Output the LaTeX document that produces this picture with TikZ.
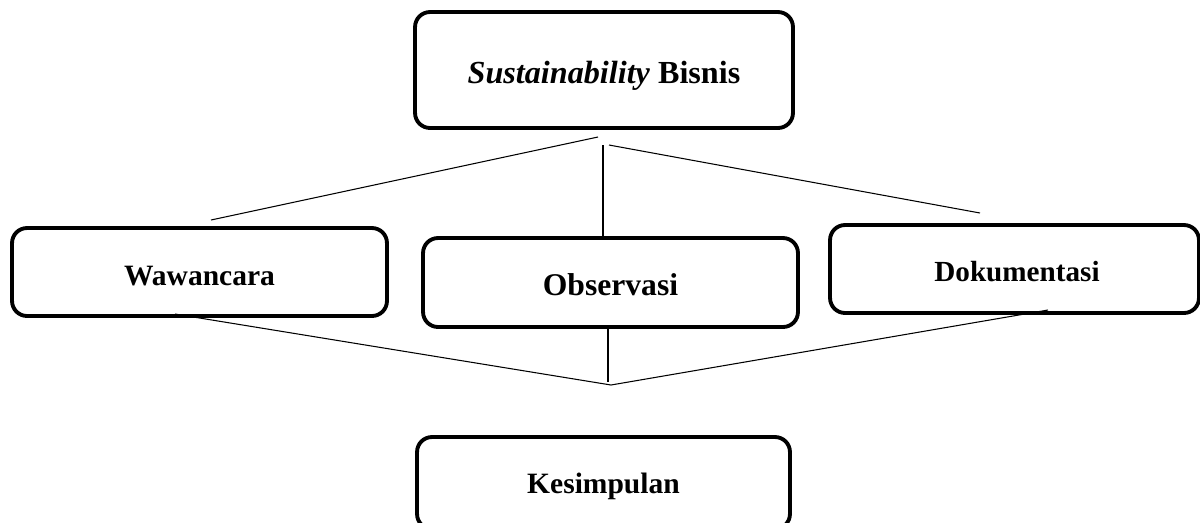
\documentclass[tikz,border=0pt]{standalone}
\usepackage{fontspec}
\setmainfont{Liberation Serif}
\newcommand{\lowr}[2]{\raisebox{-#1}[\height][\depth]{#2}}
\begin{document}
\begin{tikzpicture}[x=0.02cm,y=-0.02cm,
  box/.style={draw=black, line width=2.2pt, rounded corners=0.3cm, fill=none, inner sep=0pt, font=\bfseries},
  conn/.style={draw=black, line width=0.6pt}]
\useasboundingbox (0,0) rectangle (1200,522);
\node[box, minimum width=7.56cm, minimum height=2.32cm, font=\fontsize{18.3}{20}\selectfont\bfseries] (top) at (604,70) {\lowr{0.11cm}{\textit{Sustainability} Bisnis}};
\node[box, minimum width=7.5cm, minimum height=1.76cm, font=\fontsize{16.8}{19}\selectfont\bfseries] (waw) at (199.5,272) {\lowr{0.08cm}{Wawancara}};
\node[box, minimum width=7.5cm, minimum height=1.78cm, font=\fontsize{18}{20}\selectfont\bfseries] (obs) at (610.5,282.5) {\lowr{0.04cm}{Observasi}};
\node[box, minimum width=7.38cm, minimum height=1.76cm, font=\fontsize{16.6}{19}\selectfont\bfseries] (dok) at (1014.5,269) {\lowr{0.06cm}{\hspace{0.1cm}Dokumentasi}};
\node[box, minimum width=7.46cm, minimum height=1.84cm, font=\fontsize{16.8}{19}\selectfont\bfseries] (kes) at (603.5,483) {\lowr{0.06cm}{Kesimpulan}};
% upper fan
\coordinate (tapexl) at (598,137);
\coordinate (tapexr) at (609,145);
\coordinate (wl) at (211,220);
\coordinate (dr) at (980,213);
\coordinate (tv) at (603,145);
\draw[conn] (wl) -- (tapexl);
\draw[conn] (tapexr) -- (dr);
\draw[conn] (tv) -- (tv |- obs.north);
% lower fan
\coordinate (bapex) at (611,385);
\coordinate (wb) at (175,314);
\coordinate (db) at (1048,310);
\coordinate (ov) at (608,382);
\draw[conn] (wb) -- (bapex) -- (db);
\draw[conn] (ov |- obs.south) -- (ov);
\end{tikzpicture}
\end{document}
